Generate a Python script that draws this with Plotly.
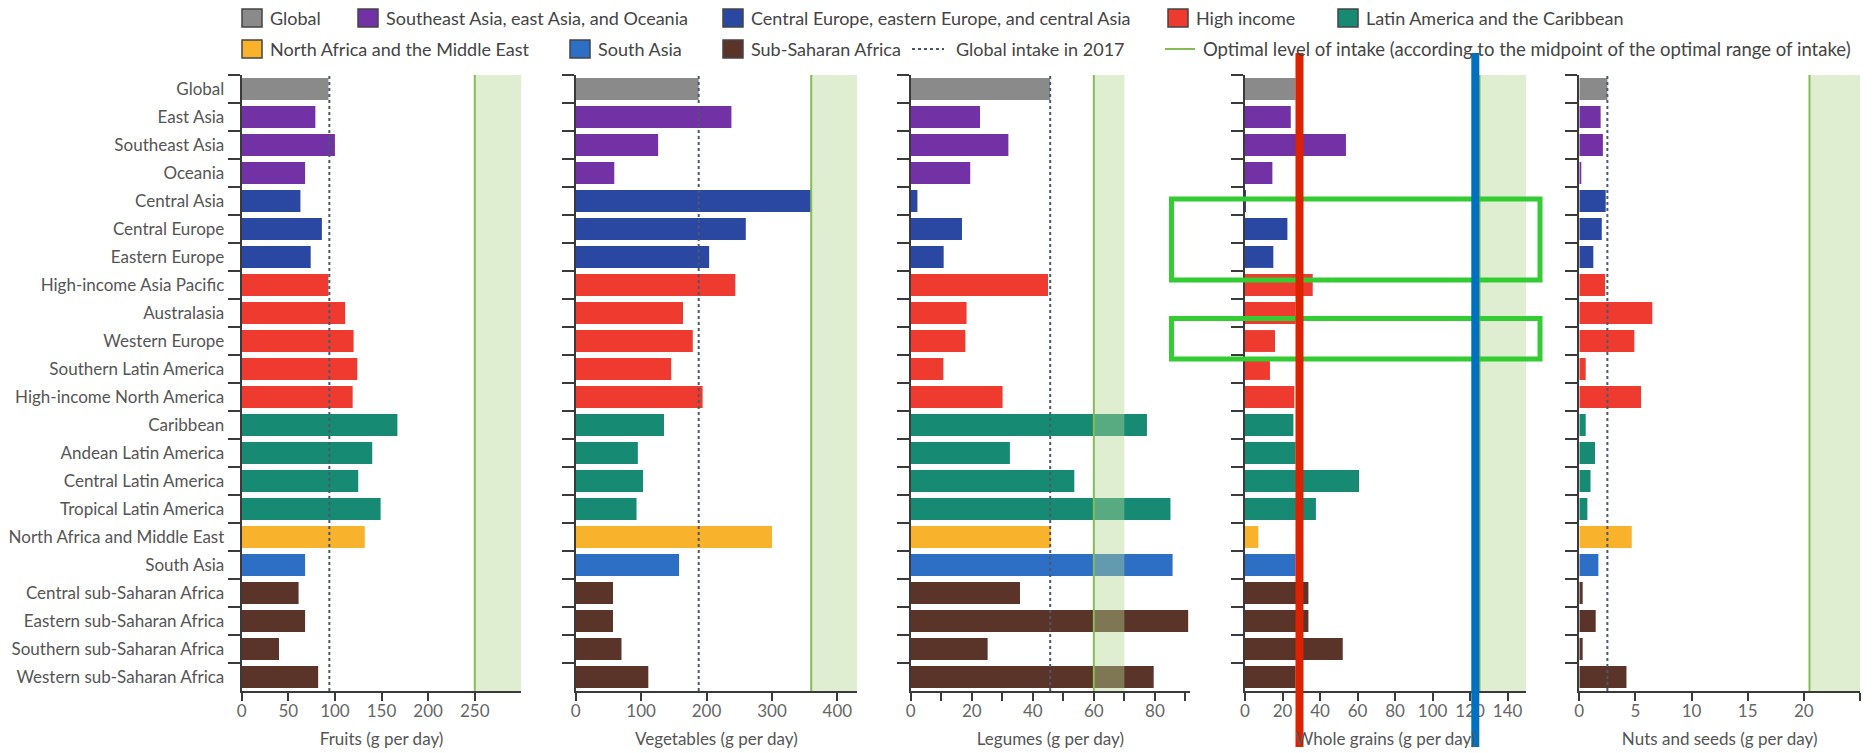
import plotly.graph_objects as go

# ---------------- data ----------------
categories = ["Global", "East Asia", "Southeast Asia", "Oceania", "Central Asia",
              "Central Europe", "Eastern Europe", "High-income Asia Pacific", "Australasia",
              "Western Europe", "Southern Latin America", "High-income North America",
              "Caribbean", "Andean Latin America", "Central Latin America", "Tropical Latin America",
              "North Africa and Middle East", "South Asia", "Central sub-Saharan Africa",
              "Eastern sub-Saharan Africa", "Southern sub-Saharan Africa", "Western sub-Saharan Africa"]

region_group = ["Global", "SEAO", "SEAO", "SEAO", "CEECA", "CEECA", "CEECA",
                "HI", "HI", "HI", "HI", "HI", "LAC", "LAC", "LAC", "LAC",
                "NAME", "SA", "SSA", "SSA", "SSA", "SSA"]

group_names = ["Global", "Southeast Asia, east Asia, and Oceania",
               "Central Europe, eastern Europe, and central Asia", "High income",
               "Latin America and the Caribbean", "North Africa and the Middle East",
               "South Asia", "Sub-Saharan Africa"]
group_keys = ["Global", "SEAO", "CEECA", "HI", "LAC", "NAME", "SA", "SSA"]
group_colors = ["#8a8a8a", "#7232a6", "#2a48a2", "#ee3a2f", "#178a74", "#f8b22c", "#2c6fc4", "#5a3329"]

fruits = [93, 79, 100, 68, 63, 86, 74, 93, 111, 120, 124, 119, 167, 140, 125, 149, 132, 68, 61, 68, 40, 82]
vegetables = [188, 238, 126, 59, 361, 260, 204, 244, 164, 179, 146, 194, 135, 95, 103, 93, 300, 158, 57, 57, 70, 111]
legumes = [45.7, 22.7, 32, 19.5, 2.2, 16.8, 10.8, 45, 18.3, 17.9, 10.7, 30.1, 77.4, 32.5, 53.6, 85.1, 45.9, 85.8, 35.8, 90.9, 25.2, 79.6]
whole_grains = [27, 24.4, 53.8, 14.6, 0.5, 22.6, 15.1, 36.1, 27, 16, 13.3, 26.3, 25.8, 27, 60.8, 37.8, 7.1, 27, 33.8, 33.8, 52.1, 27]
nuts_seeds = [2.5, 1.9, 2.1, 0.1, 2.35, 2.0, 1.25, 2.3, 6.5, 4.9, 0.57, 5.5, 0.57, 1.4, 1.0, 0.72, 4.67, 1.7, 0.3, 1.46, 0.3, 4.2]

panel_titles = ["Fruits (g per day)", "Vegetables (g per day)", "Legumes (g per day)",
                "Whole grains (g per day)", "Nuts and seeds (g per day)"]
panel_values = [fruits, vegetables, legumes, whole_grains, nuts_seeds]
global_intake_2017 = [94, 188, 45.7, 29, 2.5]
optimal_mid = [250, 360, 60, 125, 20.5]
optimal_upper = [300, 430, 70, 150, 25]
axis_max = [300, 430, 91.5, 150, 25]
tick_values = [[0, 50, 100, 150, 200, 250],
               [0, 100, 200, 300, 400],
               [0, 10, 20, 30, 40, 50, 60, 70, 80, 90],
               [0, 20, 40, 60, 80, 100, 120, 140],
               [0, 5, 10, 15, 20, 25]]
tick_labels = [["0", "50", "100", "150", "200", "250"],
               ["0", "100", "200", "300", "400"],
               ["0", "", "20", "", "40", "", "60", "", "80", ""],
               ["0", "20", "40", "60", "80", "100", "120", "140"],
               ["0", "5", "10", "15", "20", ""]]

# ---------------- layout geometry (pixels) ----------------
W, H = 1875, 753
panel_px = [(241.7, 521.4), (575.7, 857.0), (910.7, 1190.0), (1245.0, 1526.4), (1579.3, 1860.0)]
plot_top, plot_bottom = 75, 691

FONT = "Lato"
TXT = "#555555"
AX = "#3a3a3a"

color_of = dict(zip(group_keys, group_colors))
bar_colors = [color_of[g] for g in region_group]

fig = go.Figure()
shapes = []
annotations = []

for i in range(5):
    n = i + 1
    xa = "x" if n == 1 else f"x{n}"
    ya = "y" if n == 1 else f"y{n}"
    fig.add_trace(go.Bar(
        x=panel_values[i], y=categories, orientation="h",
        marker=dict(color=bar_colors, line=dict(width=0)),
        xaxis=xa, yaxis=ya, showlegend=False,
        hovertemplate="%{y}: %{x}<extra></extra>"))

    x0p, x1p = panel_px[i]
    xkey = "xaxis" if n == 1 else f"xaxis{n}"
    ykey = "yaxis" if n == 1 else f"yaxis{n}"
    fig.layout[xkey] = dict(
        domain=[x0p / W, x1p / W], anchor=ya, range=[0, axis_max[i]], automargin=False,
        showline=True, linecolor=AX, linewidth=2, ticks="outside", ticklen=8,
        tickwidth=2, tickcolor=AX, tickvals=tick_values[i], ticktext=tick_labels[i],
        ticklabelstandoff=-4,
        tickfont=dict(family=FONT, size=17, color="#666666"), showgrid=False, zeroline=False,
        title=dict(text=panel_titles[i], font=dict(family=FONT, size=17, color=TXT), standoff=13),
        fixedrange=True)
    fig.layout[ykey] = dict(
        domain=[1 - plot_bottom / H, 1 - plot_top / H], anchor=xa, automargin=False,
        type="category", categoryorder="array", categoryarray=categories,
        range=[len(categories) - 0.5, -0.5],
        showline=True, linecolor=AX, linewidth=2, ticks="outside", ticklen=12,
        tickwidth=2, tickcolor=AX, tickson="boundaries", ticklabelstandoff=12,
        showticklabels=(n == 1), tickfont=dict(family=FONT, size=17, color=TXT),
        showgrid=False, zeroline=False, fixedrange=True)

    # optimal range band, optimal midpoint line, global intake line
    shapes.append(dict(type="rect", xref=xa, yref=f"{ya} domain", x0=optimal_mid[i], x1=optimal_upper[i],
                       y0=0, y1=1, fillcolor="rgba(178,214,146,0.42)", line=dict(width=0), layer="above"))
    shapes.append(dict(type="line", xref=xa, yref=f"{ya} domain", x0=optimal_mid[i], x1=optimal_mid[i],
                       y0=0, y1=1, line=dict(color="#86bb55", width=2), layer="above"))
    shapes.append(dict(type="line", xref=xa, yref=f"{ya} domain", x0=global_intake_2017[i],
                       x1=global_intake_2017[i], y0=0, y1=1,
                       line=dict(color="#4a5a6a", width=2, dash="dot"), layer="above"))

fig.update_layout(bargap=0.22)

# ---------------- manual legend ----------------
def px(x):
    return x / W

def py(y):
    return 1 - y / H

legend_rows = [
    (18, [("sq", 0, 242), ("sq", 1, 358), ("sq", 2, 723), ("sq", 3, 1168), ("sq", 4, 1338)]),
    (49, [("sq", 5, 242), ("sq", 6, 570), ("sq", 7, 723), ("dot", "Global intake in 2017", 912),
          ("line", "Optimal level of intake (according to the midpoint of the optimal range of intake)", 1165)]),
]
for yrow, items in legend_rows:
    for kind, ref, xstart in items:
        fsize = 18
        if kind == "sq":
            shapes.append(dict(type="rect", xref="paper", yref="paper",
                               x0=px(xstart), x1=px(xstart + 20), y0=py(yrow + 9), y1=py(yrow - 9),
                               fillcolor=group_colors[ref], line=dict(color="#444444", width=1.5)))
            label = group_names[ref]
            tx = xstart + 26
        elif kind == "dot":
            shapes.append(dict(type="line", xref="paper", yref="paper",
                               x0=px(xstart), x1=px(xstart + 32), y0=py(yrow), y1=py(yrow),
                               line=dict(color="#4a5a6a", width=2, dash="dot")))
            label = ref
            tx = xstart + 42
        else:
            shapes.append(dict(type="line", xref="paper", yref="paper",
                               x0=px(xstart), x1=px(xstart + 30), y0=py(yrow), y1=py(yrow),
                               line=dict(color="#86bb55", width=2)))
            label = ref
            tx = xstart + 36
            fsize = 18.5
        annotations.append(dict(xref="paper", yref="paper", x=px(tx), y=py(yrow), text=label,
                                showarrow=False, xanchor="left", yanchor="middle",
                                font=dict(family=FONT, size=fsize, color="#444444")))

# ---------------- highlight overlays drawn on the reference ----------------
shapes.append(dict(type="rect", xref="paper", yref="paper", x0=px(1171.5), x1=px(1540),
                   y0=py(280), y1=py(199), line=dict(color="#33cc33", width=5), layer="above"))
shapes.append(dict(type="rect", xref="paper", yref="paper", x0=px(1171.5), x1=px(1540),
                   y0=py(359), y1=py(318.5), line=dict(color="#33cc33", width=5), layer="above"))
shapes.append(dict(type="line", xref="paper", yref="paper", x0=px(1299.5), x1=px(1299.5),
                   y0=py(747), y1=py(53), line=dict(color="#dd2200", width=8), layer="above"))
shapes.append(dict(type="line", xref="paper", yref="paper", x0=px(1475.3), x1=px(1475.3),
                   y0=py(747), y1=py(53), line=dict(color="#0070c0", width=8), layer="above"))

fig.update_layout(
    width=W, height=H, margin=dict(l=0, r=0, t=0, b=0, autoexpand=False),
    paper_bgcolor="white", plot_bgcolor="white", showlegend=False,
    shapes=shapes, annotations=annotations,
    font=dict(family=FONT, color=TXT))

fig.write_html("out.html", config={"displayModeBar": False},
               post_script="document.body.style.margin='0px';document.body.style.padding='0px';"
                           "document.body.style.overflow='hidden';")
